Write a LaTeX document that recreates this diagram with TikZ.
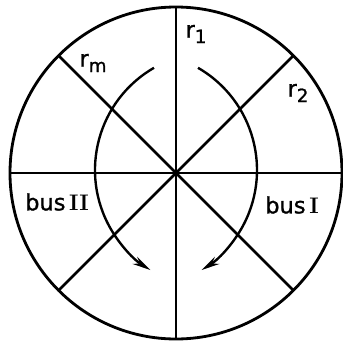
\documentclass[tikz,border=0pt]{standalone}
\usepackage{fontspec}
\setsansfont[FakeBold=1.2]{DejaVu Sans}
\usepackage{tikz}
\usetikzlibrary{arrows.meta}
\newcommand{\sub}[1]{\raisebox{-0.45ex}{\fontsize{13}{15}\selectfont #1}}

\begin{document}
\begin{tikzpicture}[x=0.025cm, y=0.025cm, >={Stealth[length=13pt, width=6pt]},
    line width=2pt,
    lbl/.style={font=\sffamily\fontsize{16}{18}\selectfont, inner sep=0pt}]
        \useasboundingbox (-176,-171) rectangle (167,173);
        % Ring and spokes
        \draw (0,0) circle (166);
        \foreach \a in {0,45,...,135}
            \draw (\a:166) -- (\a+180:166);
        % Rotation arrows
        \draw [->, line width=1.7pt] (-37,3) ++(60:118) arc (60:-58:118);
        \draw [->, line width=1.7pt] (37,3) ++(120:118) arc (120:238:118);
        % Labels
        \node [lbl] (r1) at (20,139) {r\sub{1}};
        \node [lbl] (rm) at (-83,110) {r\sub{m}};
        \node [lbl] (r2) at (122,80) {r\sub{2}};
        \node [lbl] (busII) at (-119,-29) {bus\,{\rmfamily\bfseries II}};
        \node [lbl] (busI) at (116,-32) {bus\,{\rmfamily\bfseries I}};
    \end{tikzpicture}
\end{document}
